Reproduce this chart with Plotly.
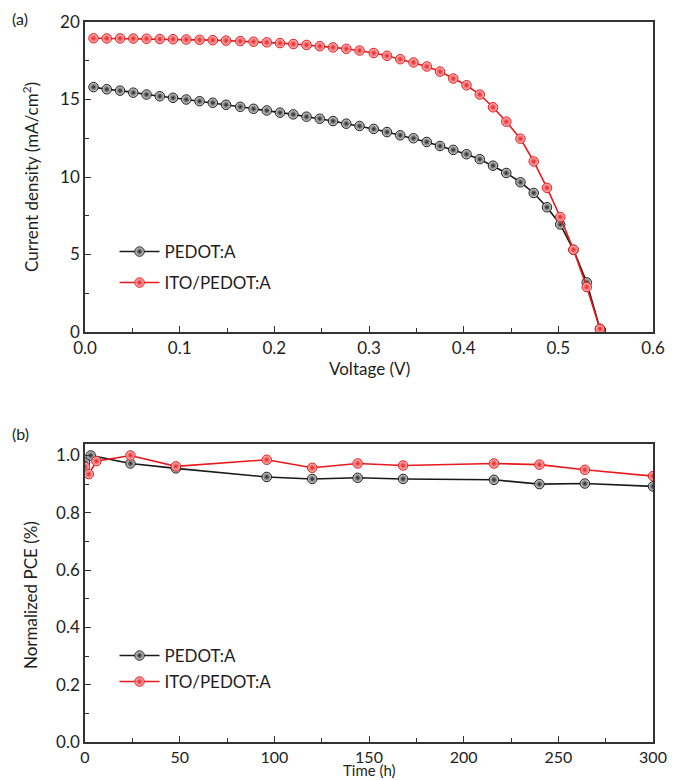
import plotly.graph_objects as go

# ---- (a) J-V data ----
voltage = [0.009, 0.023, 0.037, 0.051, 0.065, 0.079, 0.093, 0.107, 0.121, 0.135,
           0.149, 0.164, 0.178, 0.192, 0.206, 0.220, 0.234, 0.248, 0.262, 0.276,
           0.290, 0.305, 0.319, 0.333, 0.347, 0.361, 0.375, 0.389, 0.403, 0.417,
           0.431, 0.445, 0.460, 0.474, 0.488, 0.502, 0.516, 0.530, 0.544]
j_pedot = [15.80, 15.66, 15.57, 15.44, 15.32, 15.21, 15.11, 15.00, 14.89, 14.79,
           14.66, 14.53, 14.40, 14.29, 14.15, 14.04, 13.89, 13.76, 13.61, 13.44,
           13.29, 13.10, 12.90, 12.69, 12.50, 12.26, 12.00, 11.75, 11.47, 11.15,
           10.73, 10.26, 9.66, 8.97, 8.05, 6.94, 5.30, 3.20, 0.20]
j_ito = [18.95, 18.94, 18.94, 18.93, 18.92, 18.90, 18.89, 18.87, 18.85, 18.83,
         18.80, 18.77, 18.73, 18.69, 18.64, 18.58, 18.52, 18.44, 18.36, 18.27,
         18.16, 18.00, 17.82, 17.60, 17.39, 17.13, 16.80, 16.35, 15.92, 15.32,
         14.50, 13.57, 12.47, 11.00, 9.30, 7.42, 5.31, 2.90, 0.20]

# ---- (b) stability data ----
time_pedot = [0, 3, 24, 48, 96, 120, 144, 168, 216, 240, 264, 300]
pce_pedot = [0.975, 1.0, 0.972, 0.955, 0.925, 0.918, 0.922, 0.918, 0.915, 0.900, 0.902, 0.892]
time_ito = [0, 2, 6, 24, 48, 96, 120, 144, 168, 216, 240, 264, 300]
pce_ito = [0.96, 0.935, 0.98, 1.0, 0.962, 0.985, 0.957, 0.972, 0.965, 0.972, 0.968, 0.950, 0.928]

names = ["PEDOT:A", "ITO/PEDOT:A"]

BLACK = "#1a1a1a"
RED = "#e8191c"
FONT = "Lato"
TXT = "#1e1e1e"

def mk(color, light):
    return dict(size=9.5, color=light, symbol="circle",
                gradient=dict(type="radial", color=color),
                line=dict(color=color, width=1))

fig = go.Figure()
fig.add_trace(go.Scatter(x=voltage, y=j_pedot, name=names[0], mode="lines+markers",
                         line=dict(color=BLACK, width=1.6), marker=mk(BLACK, "#e6e6e6"),
                         xaxis="x", yaxis="y", legend="legend"))
fig.add_trace(go.Scatter(x=voltage, y=j_ito, name=names[1], mode="lines+markers",
                         line=dict(color=RED, width=1.6), marker=mk(RED, "#ffc8c8"),
                         xaxis="x", yaxis="y", legend="legend2"))
fig.add_trace(go.Scatter(x=time_pedot, y=pce_pedot, name=names[0], mode="lines+markers",
                         line=dict(color=BLACK, width=1.6), marker=mk(BLACK, "#e6e6e6"),
                         xaxis="x2", yaxis="y2", legend="legend3"))
fig.add_trace(go.Scatter(x=time_ito, y=pce_ito, name=names[1], mode="lines+markers",
                         line=dict(color=RED, width=1.6), marker=mk(RED, "#ffc8c8"),
                         xaxis="x2", yaxis="y2", legend="legend4"))

axis_common = dict(showline=True, linecolor="#333", linewidth=1.5, mirror=True,
                   ticks="inside", ticklen=6, tickcolor="#333", tickwidth=1.2,
                   showgrid=False, zeroline=False, automargin=False,
                   tickfont=dict(family=FONT, size=17, color=TXT))

def leg(y):
    return dict(x=0.052, y=y, xanchor="left", yanchor="middle", bgcolor="rgba(0,0,0,0)",
                font=dict(family=FONT, size=17, color=TXT), itemwidth=40, visible=True)

def ann(text, x, y, angle=0, size=17, xanchor="center"):
    return dict(text=text, x=x, y=y, xref="paper", yref="paper", showarrow=False,
                textangle=angle, xanchor=xanchor, yanchor="middle",
                font=dict(family=FONT, size=size, color=TXT))

BOT = 742
H = 780 - 22 - (780 - BOT)
def py(p):  # pixel row -> paper y
    return (BOT - p) / H
def px(p):  # pixel column -> paper x
    return (p - 85) / 568.0

x2_common = dict(axis_common)
x2_common["tickfont"] = dict(family=FONT, size=16, color=TXT)

fig.update_layout(
    width=673, height=780,
    showlegend=True,
    margin=dict(l=85, r=20, t=22, b=780 - BOT),
    paper_bgcolor="white", plot_bgcolor="white",
    font=dict(family=FONT, color=TXT),
    xaxis=dict(domain=[0, 1], anchor="y", range=[0, 0.6], dtick=0.1, tickformat=".1f",
               minor=dict(ticks="inside", dtick=0.05, ticklen=4, tickcolor="#333"),
               **axis_common),
    yaxis=dict(domain=[py(332), 1], anchor="x", range=[0, 20], dtick=5,
               minor=dict(ticks="inside", dtick=2.5, ticklen=4, tickcolor="#333"),
               **axis_common),
    xaxis2=dict(domain=[0, 1], anchor="y2", range=[0, 300], dtick=50,
                minor=dict(ticks="inside", dtick=25, ticklen=4, tickcolor="#333"),
                **x2_common),
    yaxis2=dict(domain=[0, py(444)], anchor="x2", range=[0, 1.04], dtick=0.2, tickformat=".1f",
                minor=dict(ticks="inside", dtick=0.1, ticklen=4, tickcolor="#333"),
                **axis_common),
    legend=leg(py(252)),
    legend2=leg(py(283)),
    legend3=leg(py(656)),
    legend4=leg(py(682)),
    annotations=[
        ann("(a)", px(10), py(18), size=16, xanchor="left"),
        ann("(b)", px(10), py(433), size=16, xanchor="left"),
        ann("Voltage (V)", 0.5, py(369), size=17),
        ann("Time (h)", 0.5, py(770), size=15),
        ann("Current density (mA/cm<sup>2</sup>)", px(30), py(177), angle=-90),
        ann("Normalized PCE (%)", px(30), py(595), angle=-90),
    ],
)

fig.write_html("out.html", config={"displayModeBar": False},
               post_script="document.body.style.margin='0';document.body.style.padding='0';")
